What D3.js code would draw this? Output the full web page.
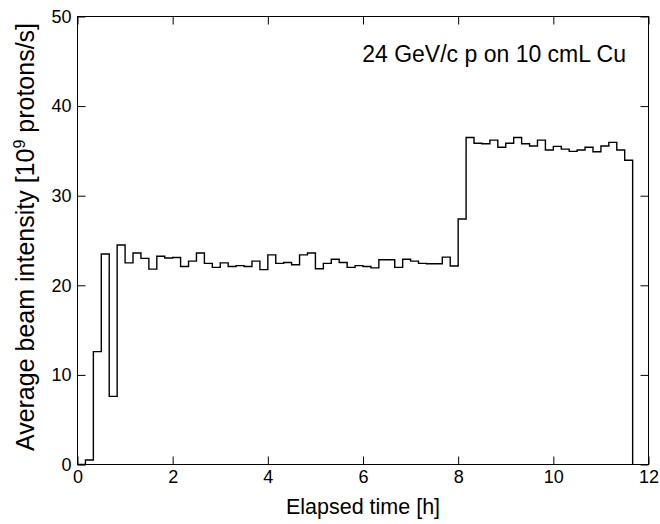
<!DOCTYPE html>
<html>
<head>
<meta charset="utf-8">
<script src="https://cdn.jsdelivr.net/npm/d3@7"></script>
<style>
  body { margin: 0; background: #fff; }
  text { font-family: "Liberation Sans", Arial, sans-serif; fill: #000; }
</style>
</head>
<body>
<svg width="660" height="524"></svg>
<script>
// 10-minute bins, starting at t = 0 h
const binWidth = 1 / 6;
const intensity = [
  0, 0.5, 12.6, 23.5, 7.6, 24.5, 22.5, 23.6, 23.0, 21.8,
  23.25, 23.05, 23.1, 22.1, 22.7, 23.6, 22.45, 22.0, 22.5, 22.1,
  22.2, 22.1, 22.7, 21.75, 23.4, 22.45, 22.55, 22.3, 23.4, 23.6,
  21.85, 22.45, 22.9, 22.55, 22.0, 22.2, 22.1, 21.95, 22.85, 22.85,
  22.0, 22.9, 22.7, 22.45, 22.4, 22.4, 23.15, 22.15, 27.4, 36.5,
  35.85, 35.8, 36.2, 35.4, 35.85, 36.5, 35.8, 35.55, 36.2, 35.1,
  35.5, 35.2, 34.95, 35.1, 35.4, 34.9, 35.55, 35.95, 35.1, 33.95
];
const xTicks = [0, 2, 4, 6, 8, 10, 12];
const yTicks = [0, 10, 20, 30, 40, 50];

const svg = d3.select("svg"),
      margin = {top: 16, right: 12, bottom: 60, left: 77},
      width = +svg.attr("width") - margin.left - margin.right,
      height = +svg.attr("height") - margin.top - margin.bottom;

const g = svg.append("g").attr("transform", `translate(${margin.left + 0.5},${margin.top + 0.5})`);

const x = d3.scaleLinear().domain([0, 12]).range([0, width]);
const y = d3.scaleLinear().domain([0, 50]).range([height, 0]);

// frame
g.append("rect")
  .attr("width", width).attr("height", height)
  .attr("fill", "none").attr("stroke", "#000").attr("stroke-width", 1);

// axes with inward ticks
const styleAxis = sel => {
  sel.select(".domain").remove();
  sel.selectAll("line").attr("stroke", "#000");
  sel.selectAll("text").style("font-size", "18px").style("font-family", "Liberation Sans, Arial, sans-serif");
};

g.append("g")
  .attr("transform", `translate(0,${height})`)
  .call(d3.axisBottom(x).tickValues(xTicks).tickSize(-8).tickPadding(6))
  .call(styleAxis);
g.append("g")
  .call(d3.axisTop(x).tickValues(xTicks).tickSize(-8).tickFormat(""))
  .call(styleAxis);
g.append("g")
  .call(d3.axisLeft(y).tickValues(yTicks).tickSize(-8).tickPadding(6))
  .call(styleAxis);
g.append("g")
  .attr("transform", `translate(${width},0)`)
  .call(d3.axisRight(y).tickValues(yTicks).tickSize(-8).tickFormat(""))
  .call(styleAxis);

// histogram as a step line
const pts = intensity.map((v, i) => [i * binWidth, v]);
pts.push([intensity.length * binWidth, 0]);

g.append("path")
  .datum(pts)
  .attr("fill", "none")
  .attr("stroke", "#000")
  .attr("stroke-width", 1.4)
  .attr("d", d3.line()
    .x(d => x(d[0]))
    .y(d => y(d[1]))
    .curve(d3.curveStepAfter));

// labels
svg.append("text")
  .attr("x", 363).attr("y", 514)
  .attr("text-anchor", "middle")
  .style("font-size", "21.5px")
  .text("Elapsed time [h]");

const yl = svg.append("text")
  .attr("transform", `translate(34,237) rotate(-90)`)
  .attr("text-anchor", "middle")
  .style("font-size", "25px");
yl.append("tspan").text("Average beam intensity [10");
yl.append("tspan").attr("dy", -9).style("font-size", "16px").text("9");
yl.append("tspan").attr("dy", 9).text(" protons/s]");

svg.append("text")
  .attr("x", 626).attr("y", 62)
  .attr("text-anchor", "end")
  .style("font-size", "23px")
  .text("24 GeV/c p on 10 cmL Cu");
</script>
</body>
</html>
